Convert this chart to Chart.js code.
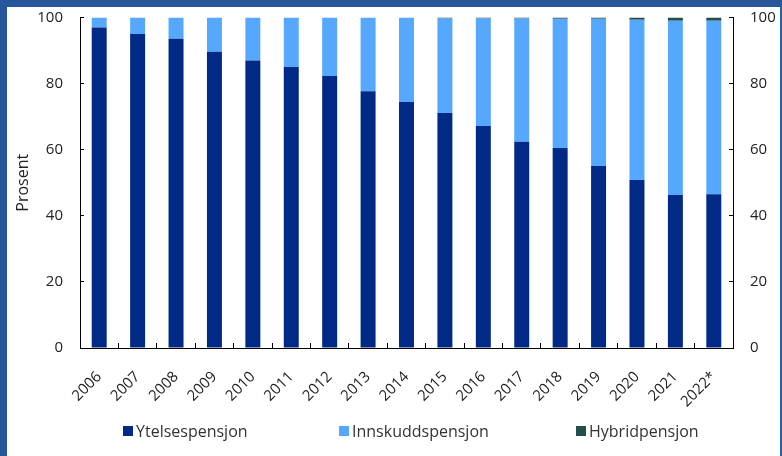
<!DOCTYPE html>
<html>
<head>
<meta charset="utf-8">
<title>Pensjonsordninger</title>
<script src="https://cdn.jsdelivr.net/npm/chart.js"></script>
<style>
  html, body { margin: 0; padding: 0; background: #fff; }
  #frame {
    position: relative;
    width: 782px; height: 456px;
    box-sizing: border-box;
    border-top: 7px solid #27579a;
    border-left: 7px solid #27579a;
    border-right: 2px solid #2563a3;
    font-family: 'Open Sans', sans-serif;
  }
  #wrap { position: absolute; left: 0; top: 0; width: 773px; height: 449px; }
  #legend { position: absolute; left: 0; top: 413px; width: 773px; height: 24px; font-size: 16px; color: #333; }
  #legend .item { position: absolute; top: 0; display: flex; align-items: center; white-space: nowrap; }
  #legend .box { width: 10px; height: 10px; margin-right: 3px; }
</style>
</head>
<body>
<div id="frame">
  <div id="wrap"><canvas id="pensjonChart"></canvas></div>
  <div id="legend"></div>
</div>
<script>
const years = ['2006', '2007', '2008', '2009', '2010', '2011', '2012', '2013', '2014',
  '2015', '2016', '2017', '2018', '2019', '2020', '2021', '2022*'];
const ytelse = [97, 95, 93.6, 89.6, 87, 85, 82.3, 77.7, 74.4, 71.1, 67.2, 62.4, 60.5, 55.1, 50.8, 46.3, 46.5];
const innskudd = [3, 5, 6.4, 10.4, 13, 15, 17.7, 22.3, 25.6, 28.6, 32.5, 37.3, 39.1, 44.5, 48.5, 52.7, 52.5];
const hybrid = [0, 0, 0, 0, 0, 0, 0, 0, 0, 0.3, 0.3, 0.3, 0.4, 0.4, 0.7, 1.0, 1.0];
const yTicks = [0, 20, 40, 60, 80, 100];

const seriesNames = ['Ytelsespensjon', 'Innskuddspensjon', 'Hybridpensjon'];
const seriesColors = ['#002a85', '#56a8ff', '#234f4b'];
const legendLeft = [116, 332, 569];

const tickFont = { family: 'Open Sans', size: 15 };
const textColor = '#222';

function yAxis(position, width) {
  return {
    position: position,
    min: 0,
    max: 100,
    stacked: true,
    afterBuildTicks: (scale) => { scale.ticks = yTicks.map(v => ({ value: v })); },
    afterFit: (scale) => { scale.width = width; scale.paddingTop = 0; scale.paddingBottom = 0; },
    border: { display: true, color: '#000', width: 1 },
    grid: { drawOnChartArea: false, drawTicks: true, tickLength: -4, color: '#000' },
    ticks: { font: tickFont, color: textColor, padding: 21 },
  };
}

document.addEventListener('DOMContentLoaded', function () {
  const ctx = document.getElementById('pensjonChart').getContext('2d');
  new Chart(ctx, {
    type: 'bar',
    data: {
      labels: years,
      datasets: [ytelse, innskudd, hybrid].map((d, i) => ({
        label: seriesNames[i],
        data: d,
        backgroundColor: seriesColors[i],
        borderWidth: 0,
        barPercentage: 0.39,
        categoryPercentage: 1,
      })),
    },
    options: {
      responsive: true,
      maintainAspectRatio: false,
      animation: false,
      layout: { padding: { top: 10.5, left: 0, right: 0, bottom: 0 } },
      scales: {
        x: {
          stacked: true,
          afterFit: (scale) => { scale.height = 108; scale.paddingLeft = 0; scale.paddingRight = 0; },
          border: { display: true, color: '#000', width: 1 },
          grid: { offset: true, drawOnChartArea: false, drawTicks: true, tickLength: -5, color: '#000' },
          ticks: { font: { family: 'Open Sans', size: 15 }, color: textColor, maxRotation: 45, minRotation: 45, padding: 25 },
        },
        y: Object.assign(yAxis('left', 73), {
          title: { display: true, text: 'Prosent', font: { family: 'Open Sans', size: 16 }, color: textColor, padding: { top: 7, bottom: 0 } },
        }),
        y2: yAxis('right', 47),
      },
      plugins: {
        legend: { display: false },
        tooltip: { enabled: false },
      },
    },
  });

  const legend = document.getElementById('legend');
  seriesNames.forEach((name, i) => {
    const item = document.createElement('div');
    item.className = 'item';
    item.style.left = legendLeft[i] + 'px';
    const box = document.createElement('span');
    box.className = 'box';
    box.style.background = seriesColors[i];
    const label = document.createElement('span');
    label.textContent = name;
    item.appendChild(box);
    item.appendChild(label);
    legend.appendChild(item);
  });
});
</script>
</body>
</html>
